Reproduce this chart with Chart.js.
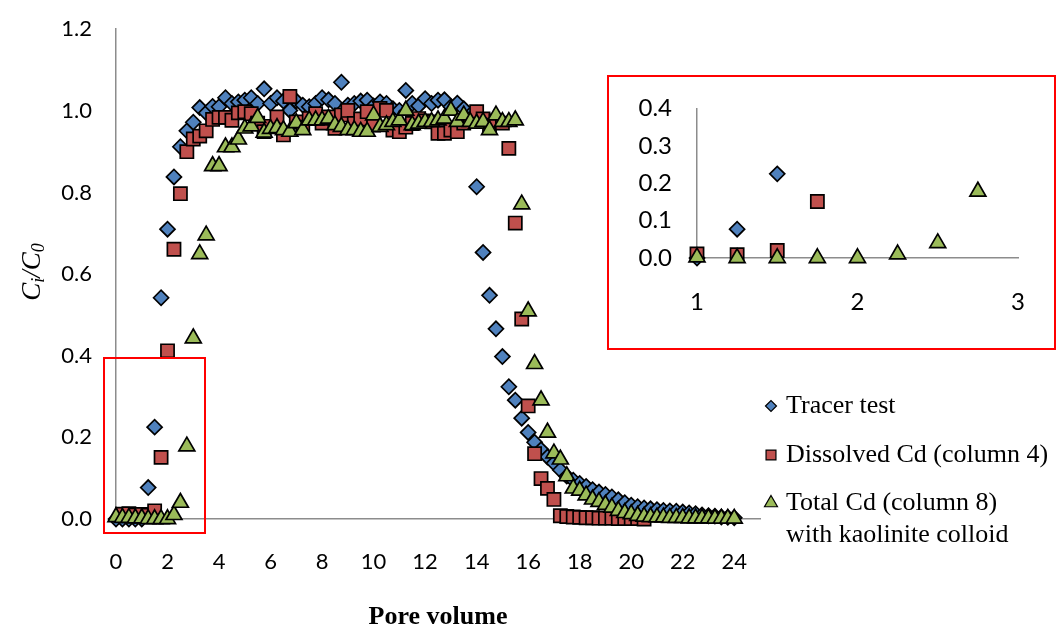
<!doctype html>
<html lang="en">
<head>
  <meta charset="utf-8">
  <title>Breakthrough curves</title>
  <script src="https://cdn.jsdelivr.net/npm/chart.js"></script>
  <style>
    body { margin: 0; background: #fff; }
    #wrap { position: relative; width: 1060px; height: 630px; }
    #mainChart { position: absolute; left: 0; top: 0; }
    #zoomBox { position: absolute; left: 103px; top: 357px; width: 99px; height: 173px; border: 2px solid #ff0000; }
    #insetBox { position: absolute; left: 607px; top: 75px; width: 445px; height: 271px; border: 2px solid #ff0000; background: #fff; }
    #insetChart { display: block; }
  </style>
</head>
<body>
<div id="wrap">
  <canvas id="mainChart" width="1060" height="630"></canvas>
  <div id="zoomBox"></div>
  <div id="insetBox"><canvas id="insetChart" width="445" height="271"></canvas></div>
</div>
<script>
// pore volume of each sample
const poreVolume = [
  0, 0.25, 0.5, 0.75, 1, 1.25, 1.5, 1.75, 2, 2.25, 2.5, 2.75,
  3, 3.25, 3.5, 3.75, 4, 4.25, 4.5, 4.75, 5, 5.25, 5.5, 5.75,
  6, 6.25, 6.5, 6.75, 7, 7.25, 7.5, 7.75, 8, 8.25, 8.5, 8.75,
  9, 9.25, 9.5, 9.75, 10, 10.25, 10.5, 10.75, 11, 11.25, 11.5, 11.75,
  12, 12.25, 12.5, 12.75, 13, 13.25, 13.5, 13.75, 14, 14.25, 14.5, 14.75,
  15, 15.25, 15.5, 15.75, 16, 16.25, 16.5, 16.75, 17, 17.25, 17.5, 17.75,
  18, 18.25, 18.5, 18.75, 19, 19.25, 19.5, 19.75, 20, 20.25, 20.5, 20.75,
  21, 21.25, 21.5, 21.75, 22, 22.25, 22.5, 22.75, 23, 23.25, 23.5, 23.75, 24
];

// C/C0 values, same order as poreVolume (null = no sample)
const tracer = [
  0.000, 0.000, 0.000, 0.000, 0.000, 0.077, 0.225, 0.542, 0.710, 0.838, 0.912, 0.951,
  0.972, 1.008, 0.995, 1.011, 1.010, 1.032, 1.018, 1.022, 1.026, 1.032, 1.018, 1.054,
  1.018, 1.032, 1.024, 1.001, 1.024, 1.014, 1.010, 1.018, 1.032, 1.027, 1.018, 1.070,
  1.014, 1.018, 1.024, 1.026, 1.012, 1.022, 1.018, 1.005, 1.001, 1.050, 1.018, 1.012,
  1.030, 1.018, 1.026, 1.027, 1.010, 1.019, 1.005, 0.990, 0.814, 0.653, 0.548, 0.466,
  0.398, 0.324, 0.291, 0.247, 0.212, 0.188, 0.170, 0.152, 0.137, 0.120, 0.105, 0.095,
  0.087, 0.080, 0.072, 0.066, 0.060, 0.054, 0.047, 0.040, 0.034, 0.030, 0.027, 0.025,
  0.023, 0.021, 0.020, 0.019, 0.017, 0.015, 0.013, 0.010, 0.008, 0.007, 0.005, 0.004, 0.003
];
const dissolvedCd = [
  null, 0.012, 0.013, 0.010, 0.011, 0.009, 0.020, 0.151, 0.412, 0.661, 0.797, 0.900,
  0.931, 0.938, 0.951, 0.979, 0.984, 0.984, 0.977, 0.995, 0.998, 0.993, 0.970, 0.949,
  0.962, 0.985, 0.941, 1.035, 0.973, 0.960, 0.981, 0.993, 0.970, 0.985, 0.957, 0.990,
  1.001, 0.969, 0.980, 0.998, 0.965, 1.006, 1.001, 0.953, 0.949, 0.960, 0.969, 0.981,
  0.975, 0.973, 0.945, 0.945, 0.953, 0.949, 0.970, 0.980, 0.998, 0.980, 0.965, 0.975,
  0.970, 0.908, 0.725, 0.490, 0.277, 0.160, 0.099, 0.075, 0.048, 0.008, 0.006, 0.005,
  0.004, 0.003, 0.003, 0.002, 0.002, 0.002, 0.001, 0.001, 0.001, 0.001, 0.000, null,
  null, null, null, null, null, null, null, null, null, null, null, null, null
];
const totalCd = [
  0.005, 0.003, 0.003, 0.002, 0.002, 0.000, 0.000, 0.000, 0.000, 0.010, 0.040, 0.178,
  0.443, 0.649, 0.695, 0.865, 0.865, 0.911, 0.911, 0.930, 0.957, 0.962, 0.983, 0.947,
  0.956, 0.958, 0.953, 0.949, 0.970, 0.953, 0.977, 0.977, 0.977, 0.981, 0.965, 0.961,
  0.953, 0.953, 0.949, 0.949, 0.989, 0.961, 0.965, 0.973, 0.977, 1.001, 0.965, 0.969,
  0.973, 0.973, 0.977, 0.981, 1.001, 0.973, 0.989, 0.973, 0.969, 0.973, 0.953, 0.989,
  0.973, 0.973, 0.977, 0.771, 0.509, 0.380, 0.291, 0.212, 0.161, 0.146, 0.105, 0.075,
  0.070, 0.058, 0.048, 0.042, 0.035, 0.028, 0.020, 0.015, 0.012, 0.008, 0.006, 0.005,
  0.004, 0.004, 0.003, 0.003, 0.003, 0.002, 0.002, 0.002, 0.002, 0.001, 0.001, 0.001, 0.001
];

const seriesNames = [
  ['Tracer test'],
  ['Dissolved Cd (column 4)'],
  ['Total Cd (column 8)', 'with kaolinite colloid']
];

const mainXTicks = { min: 0, max: 25, step: 2, lastLabel: 24 };
const mainYTicks = { min: 0, max: 1.2, step: 0.2 };
const insetXTicks = { min: 1, max: 3, step: 1 };
const insetYTicks = { min: 0, max: 0.4, step: 0.1 };

const styles = [
  { values: tracer, pointStyle: 'rectRot', radius: 7.5, color: '#4F81BD', order: 3 },
  { values: dissolvedCd, pointStyle: 'rect', radius: 9.3, color: '#C0504D', order: 2 },
  { values: totalCd, pointStyle: 'triangle', radius: 9.2, color: '#9BBB59', order: 1 }
];

function toPoints(values, keep) {
  const pts = [];
  poreVolume.forEach(function(x, i) {
    if (values[i] !== null && keep(x, values[i])) pts.push({ x: x, y: values[i] });
  });
  return pts;
}

function makeSets(keep) {
  return styles.map(function(s, i) {
    return {
      label: seriesNames[i].join(' '),
      data: toPoints(s.values, keep),
      showLine: false,
      pointStyle: s.pointStyle,
      pointRadius: s.radius,
      pointBackgroundColor: s.color,
      pointBorderColor: '#000',
      pointBorderWidth: 1.7,
      order: s.order,
      clip: false
    };
  });
}

const tickFont = { family: 'Lato', size: 22 };
const insetFont = { family: 'Lato', size: 24 };
const axisBorder = { display: true, color: '#8c8c8c', width: 1.5 };

// y axis title with subscripts
const yTitle = {
  id: 'yTitle',
  afterDraw(chart) {
    const ctx = chart.ctx;
    const big = 'italic 27px "Liberation Serif"';
    const small = 'italic 18px "Liberation Serif"';
    const parts = [['C', big, 0], ['i', small, 6], ['/C', big, 0], ['0', small, 6]];
    ctx.save();
    ctx.translate(33, 272);
    ctx.rotate(-Math.PI / 2);
    let w = 0;
    parts.forEach(function(p) { ctx.font = p[1]; w += ctx.measureText(p[0]).width; });
    let x = -w / 2;
    ctx.fillStyle = '#000';
    ctx.textBaseline = 'middle';
    parts.forEach(function(p) {
      ctx.font = p[1];
      ctx.fillText(p[0], x, p[2]);
      x += ctx.measureText(p[0]).width;
    });
    ctx.restore();
  }
};

// legend at the lower right
const sideLegend = {
  id: 'sideLegend',
  afterDraw(chart) {
    const ctx = chart.ctx;
    const rows = [406, 455, 503];
    const markerSize = [5.5, 7, 7.5];
    ctx.save();
    styles.forEach(function(s, i) {
      ctx.fillStyle = s.color;
      ctx.strokeStyle = '#000';
      ctx.lineWidth = 1.2;
      Chart.helpers.drawPoint(ctx, { pointStyle: s.pointStyle, radius: markerSize[i], rotation: 0, borderWidth: 1.2 }, 771, rows[i]);
      ctx.fillStyle = '#000';
      ctx.font = '26px "Liberation Serif"';
      ctx.textBaseline = 'middle';
      seriesNames[i].forEach(function(line, j) {
        ctx.fillText(line, 786, rows[i] + j * 32);
      });
    });
    ctx.restore();
  }
};

const mainChart = new Chart(document.getElementById('mainChart'), {
  type: 'scatter',
  data: { datasets: makeSets(function() { return true; }) },
  options: {
    responsive: false,
    animation: false,
    events: [],
    layout: { padding: { top: 13, right: 300, left: 0, bottom: 0 } },
    plugins: { legend: { display: false }, tooltip: { enabled: false } },
    scales: {
      x: {
        type: 'linear',
        min: mainXTicks.min,
        max: mainXTicks.max,
        grid: { display: false },
        border: axisBorder,
        afterBuildTicks: function(scale) {
          scale.ticks = scale.ticks.filter(function(t) { return t.value <= mainXTicks.lastLabel; });
        },
        afterFit: function(scale) { scale.height = 111; },
        ticks: { stepSize: mainXTicks.step, includeBounds: false, padding: 22, color: '#000', font: tickFont, maxRotation: 0 },
        title: {
          display: true,
          text: 'Pore volume',
          color: '#000',
          font: { family: 'Liberation Serif', size: 26, weight: 'bold', lineHeight: 1 },
          padding: { top: 0, bottom: 0 }
        }
      },
      y: {
        min: mainYTicks.min,
        max: mainYTicks.max,
        grid: { display: false },
        border: axisBorder,
        afterFit: function(scale) { scale.width = 116; },
        ticks: {
          stepSize: mainYTicks.step,
          padding: 16,
          color: '#000',
          font: tickFont,
          callback: function(v) { return v.toFixed(1); }
        }
      }
    }
  },
  plugins: [yTitle, sideLegend]
});

const insetChart = new Chart(document.getElementById('insetChart'), {
  type: 'scatter',
  data: {
    datasets: makeSets(function(x, y) {
      return x >= insetXTicks.min && x <= insetXTicks.max && y <= insetYTicks.max;
    })
  },
  options: {
    responsive: false,
    animation: false,
    events: [],
    layout: { padding: { top: 18, right: 36, left: 0, bottom: 0 } },
    plugins: { legend: { display: false }, tooltip: { enabled: false } },
    scales: {
      x: {
        type: 'linear',
        min: insetXTicks.min,
        max: insetXTicks.max,
        grid: { display: false },
        border: axisBorder,
        afterFit: function(scale) { scale.height = 90; },
        ticks: { stepSize: insetXTicks.step, padding: 22, color: '#000', font: insetFont, maxRotation: 0 }
      },
      y: {
        min: insetYTicks.min,
        max: insetYTicks.max,
        grid: { display: false },
        border: axisBorder,
        afterFit: function(scale) { scale.width = 88; },
        ticks: {
          stepSize: insetYTicks.step,
          padding: 17,
          color: '#000',
          font: insetFont,
          callback: function(v) { return v.toFixed(1); }
        }
      }
    }
  }
});
</script>
</body>
</html>
